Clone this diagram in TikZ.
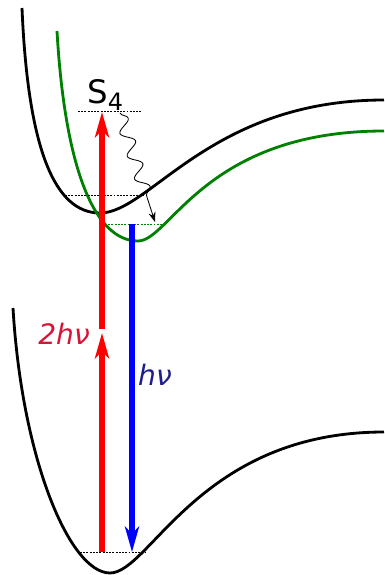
\documentclass[tikz,border=0pt]{standalone}
\usepackage{fontspec}
\newfontfamily\labfont{DejaVu Sans}
\usepackage{tikz}
\usetikzlibrary{arrows.meta,decorations.pathmorphing,positioning}
\definecolor{pesgreen}{rgb}{0,0.5,0}
\definecolor{labred}{RGB}{215,20,55}
\definecolor{labblue}{RGB}{30,30,140}

\tikzset{
  pes/.style={line width=2pt},
  lvl/.style={line width=0.7pt, dash pattern=on 1.4pt off 0.9pt},
  photon/.style={line width=3.6pt, -{Stealth[length=18pt,width=10pt,inset=5pt]}},
  txt/.style={font=\labfont\itshape\fontsize{20}{24}\selectfont}
}

\begin{document}
\begin{tikzpicture}[x=0.025cm,y=-0.025cm]
            \useasboundingbox (0,0) rectangle (384,575);

            % potential curves
            \draw[pes] (22,8) .. controls (28,150) and (55,213) .. (100,213)
                .. controls (150,213) and (210,100) .. (384,100);
            \draw[pes, pesgreen] (57,31) .. controls (65,170) and (95,241) .. (138,241)
                .. controls (170,241) and (205,131) .. (384,131);
            \draw[pes] (13,308) .. controls (22,460) and (70,573) .. (110,573)
                .. controls (150,573) and (200,432) .. (384,432);

            % vibrational levels
            \coordinate (s4l) at (78,111);  \coordinate (s4r) at (142,111);
            \coordinate (s0l) at (65,195);  \coordinate (s0r) at (143,195);
            \coordinate (gl) at (105,224);  \coordinate (gr) at (165,224);
            \coordinate (bl) at (80,552);   \coordinate (br) at (145,552);
            \draw[lvl] (s4l) -- (s4r);
            \draw[lvl] (s0l) -- (s0r);
            \draw[lvl, pesgreen] (gl) -- (gr);
            \draw[lvl] (bl) -- (br);

            \node[anchor=base west, inner sep=0pt, font=\labfont\fontsize{23}{26}\selectfont] (s4) at (87,103)
                {S\raisebox{-0.22em}{\fontsize{17}{20}\selectfont 4}};

            % two-photon absorption
            \coordinate (absA) at (102,552);
            \coordinate (absB) at (102,333);
            \coordinate (absC) at (102,329);
            \coordinate (absD) at (102,112);
            \draw[photon, red] (absA) -- (absB);
            \draw[photon, red] (absC) -- (absD);
            \node[txt, labred] (two) at (64,334) {2hν};

            % emission
            \coordinate (emA) at (132,224);
            \coordinate (emB) at (132,552);
            \draw[photon, blue] (emA) -- (emB);
            \node[txt, labblue] (one) at (155,375) {hν};

            % relaxation
            \coordinate (wvA) at (120,113);
            \coordinate (wvB) at (155,222);
            \draw[line width=0.6pt, -{Stealth[length=7pt,width=5pt]},
                  decorate, decoration={snake, segment length=17, amplitude=4.5, post length=14}] (wvA) -- (wvB);
        \end{tikzpicture}
\end{document}
